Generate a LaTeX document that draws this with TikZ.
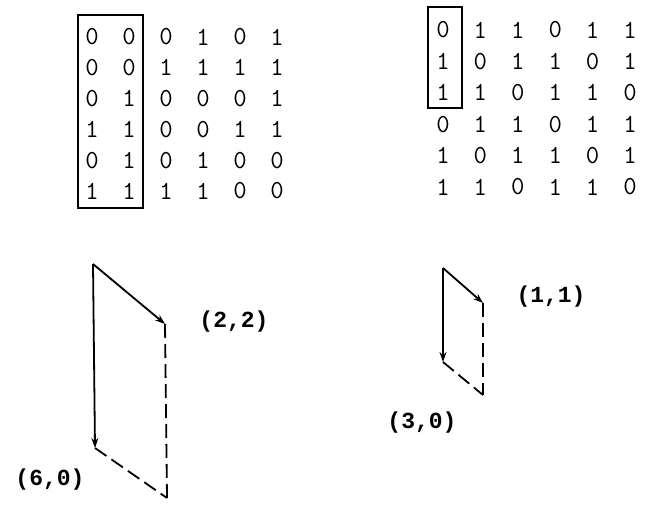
\documentclass[tikz,border=0pt]{standalone}
\usepackage{fontspec}
\newfontfamily\labfont{Liberation Mono}
\usetikzlibrary{arrows.meta}
\begin{document}
\begin{tikzpicture}[x=1pt,y=-1pt,
  digit/.style={font=\ttfamily\fontsize{26}{26}\selectfont\addfontfeatures{FakeBold=1.5}, inner sep=0pt, anchor=center},
  lab/.style={font=\labfont\bfseries\fontsize{23}{23}\selectfont, inner sep=0pt, anchor=center},
  boxline/.style={line width=1.8pt},
  vec/.style={line width=1.8pt, -{Stealth[length=10pt,width=7pt]}},
  dline/.style={line width=1.8pt, dash pattern=on 14pt off 6pt}]
\useasboundingbox (0,0) rectangle (645,511);
% left matrix
\foreach \row [count=\r] in {{0,0,0,1,0,1},{0,0,1,1,1,1},{0,1,0,0,0,1},{1,1,0,0,1,1},{0,1,0,1,0,0},{1,1,1,1,0,0}}{
  \foreach \v [count=\c] in \row {
    \node[digit] (L-\r-\c) at ({92+37*(\c-1)},{37+30.8*(\r-1)}) {\v};
  }
}
\draw[boxline] (78,15) rectangle (143,208);
% right matrix
\foreach \row [count=\r] in {{0,1,1,0,1,1},{1,0,1,1,0,1},{1,1,0,1,1,0},{0,1,1,0,1,1},{1,0,1,1,0,1},{1,1,0,1,1,0}}{
  \foreach \v [count=\c] in \row {
    \node[digit] (R-\r-\c) at ({443+37.4*(\c-1)},{30+31.4*(\r-1)}) {\v};
  }
}
\draw[boxline] (428,7) rectangle (462,108);
% left parallelogram
\coordinate (A) at (93,264);
\coordinate (B) at (165,324);
\coordinate (C) at (95,448);
\coordinate (D) at (167,498);
\draw[vec] (A) -- (B);
\draw[vec] (A) -- (C);
\draw[dline] (B) -- (D);
\draw[dline] (C) -- (D);
\node[lab] (l22) at (234,322) {(2,2)};
\node[lab] (l60) at (50,480) {(6,0)};
% right parallelogram
\coordinate (E) at (443,268);
\coordinate (F) at (483,303);
\coordinate (G) at (443,362);
\coordinate (H) at (483,395);
\draw[vec] (E) -- (F);
\draw[vec] (E) -- (G);
\draw[dline] (F) -- (H);
\draw[dline] (G) -- (H);
\node[lab] (l11) at (551,297) {(1,1)};
\node[lab] (l30) at (422,423) {(3,0)};
\end{tikzpicture}
\end{document}
